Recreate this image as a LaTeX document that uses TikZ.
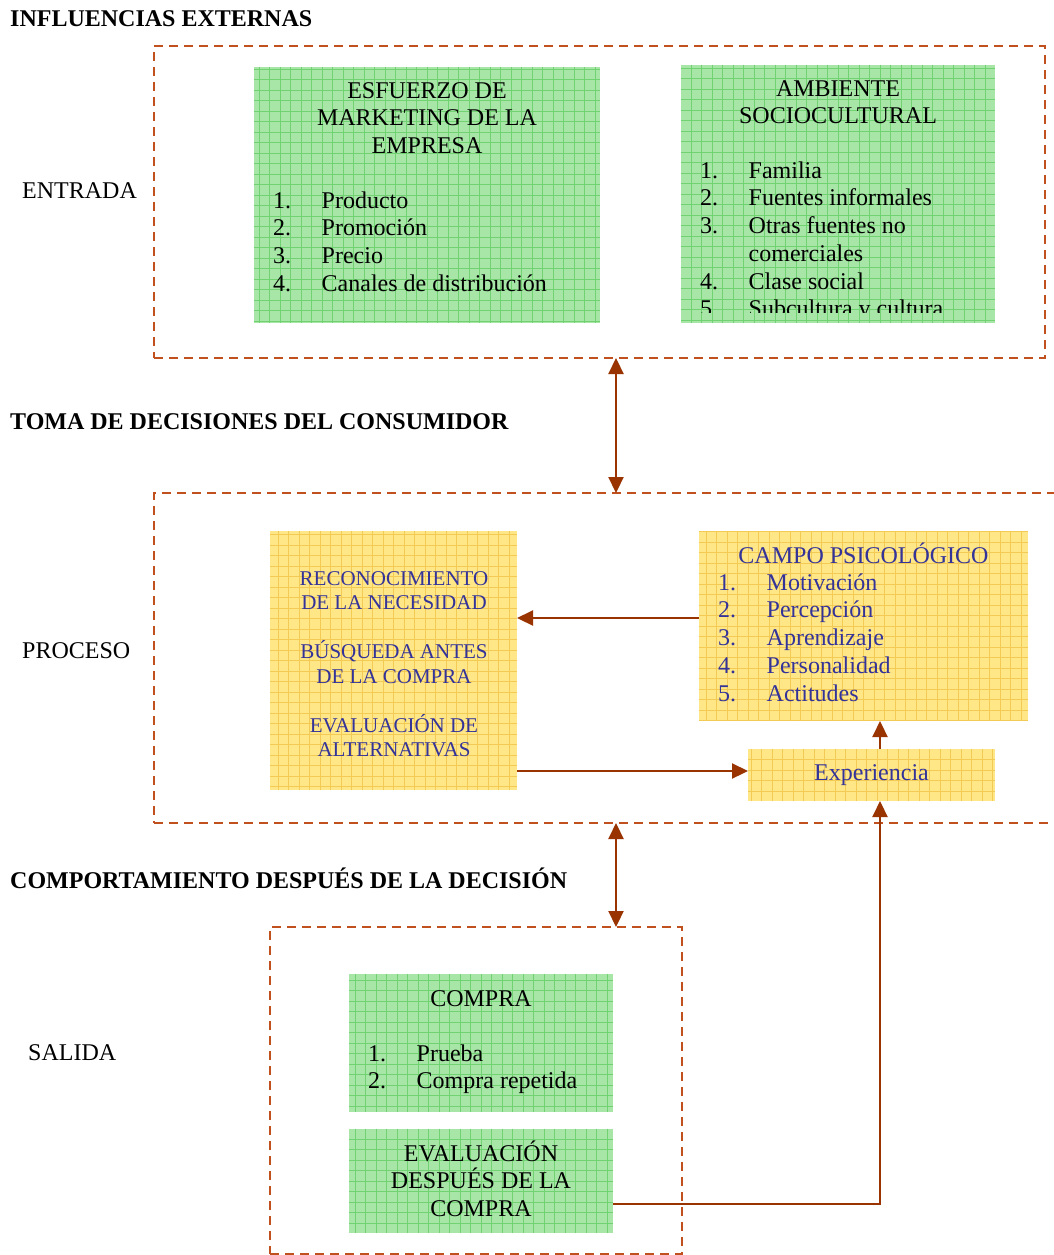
\documentclass[tikz,border=0pt]{standalone}
\usepackage{fontspec}
\setmainfont{Liberation Serif}
\usetikzlibrary{arrows.meta}

\definecolor{dashbrown}{RGB}{192,80,30}
\definecolor{arrbrown}{RGB}{153,51,0}
\definecolor{gfill}{RGB}{168,230,168}
\definecolor{ggrid}{RGB}{112,210,112}
\definecolor{yfill}{RGB}{255,230,135}
\definecolor{ygrid}{RGB}{242,202,84}
\definecolor{ytext}{RGB}{51,51,153}

% type sizes and helpers
\newcommand{\sizeA}{\fontsize{24}{27.7}\selectfont}
\newcommand{\sizeB}{\fontsize{21}{24.5}\selectfont}
\newcommand{\tsA}{\rule{0pt}{23pt}}
\newcommand{\tsB}{\rule{0pt}{20pt}}
\newcommand{\inum}[1]{\makebox[48.5pt][l]{#1}}

\tikzset{
  panel/.style={draw=dashbrown, line width=2.6pt, dash pattern=on 9pt off 6pt,
    inner sep=0pt, outer sep=0pt},
  gridbox/.style n args={2}{fill=#1, inner sep=0pt, outer sep=0pt,
    path picture={\draw[#2, line width=0.7pt, step=10.5pt]
      (path picture bounding box.south west) grid (path picture bounding box.north east);}},
  greenbox/.style={gridbox={gfill}{ggrid}},
  yellowbox/.style={gridbox={yfill}{ygrid}},
  tip/.tip={Triangle[length=16pt,width=15pt]},
  conn/.style={draw=arrbrown, line width=2.2pt, -tip},
  dconn/.style={draw=arrbrown, line width=2.2pt, tip-tip},
  heading/.style={font=\sizeA\bfseries, anchor=base west, inner sep=0pt},
  sidelabel/.style={font=\sizeA, anchor=base west, inner sep=0pt},
  titletext/.style={font=\sizeA, anchor=north, align=center, inner sep=0pt},
  listtext/.style={font=\sizeA, anchor=north west, align=left, inner sep=0pt},
}

\begin{document}
\begin{tikzpicture}[x=1pt, y=-1pt]
\useasboundingbox (0,0) rectangle (1053,1255);

% section headings
\node[heading] (hinf) at (10,27) {INFLUENCIAS EXTERNAS};
\node[heading] (htoma) at (10,429) {TOMA DE DECISIONES DEL CONSUMIDOR};
\node[heading] (hcomp) at (10,888) {COMPORTAMIENTO DESPUÉS DE LA DECISIÓN};

% side labels
\node[sidelabel] (lent) at (22,198) {ENTRADA};
\node[sidelabel] (lproc) at (22,658) {PROCESO};
\node[sidelabel] (lsal) at (28,1060) {SALIDA};

% dashed panels
\node[panel, minimum width=891pt, minimum height=312pt] (influ) at (599.5,202) {};
\node[panel, minimum width=946pt, minimum height=330pt] (proc) at (627,658) {};
\node[panel, minimum width=412pt, minimum height=327pt] (salida) at (476,1090.5) {};

% coloured boxes
\node[greenbox, minimum width=346pt, minimum height=256pt] (mkt) at (427,195) {};
\node[greenbox, minimum width=314pt, minimum height=258pt] (amb) at (838,194) {};
\node[yellowbox, minimum width=247pt, minimum height=259pt] (nec) at (393.5,660.5) {};
\node[yellowbox, minimum width=329pt, minimum height=190pt] (campo) at (863.5,626) {};
\node[yellowbox, minimum width=247pt, minimum height=52pt, font=\sizeA, text=ytext]
  (exp) at (871.5,775) {Experiencia};
\node[greenbox, minimum width=264pt, minimum height=138pt] (compra) at (481,1043) {};
\node[greenbox, minimum width=264pt, minimum height=104pt] (eval) at (481,1181) {};

% box texts
\node[titletext] (mkttitle) at (427,75) {\tsA ESFUERZO DE\\MARKETING DE LA\\EMPRESA};
\node[listtext] (mktlist) at (273,185)
  {\tsA\inum{1.}Producto\\\inum{2.}Promoción\\\inum{3.}Precio\\\inum{4.}Canales de distribución};

\node[titletext] (ambtitle) at (838,73) {\tsA AMBIENTE\\SOCIOCULTURAL};
\begin{scope}
  \clip (681,65) rectangle (995,312);
  \node[listtext] (amblist) at (700,155)
    {\tsA\inum{1.}Familia\\\inum{2.}Fuentes informales\\\inum{3.}Otras fuentes no\\
     \inum{}comerciales\\\inum{4.}Clase social\\\inum{5.}Subcultura y cultura};
\end{scope}

\node[font=\sizeB, text=ytext, anchor=north, align=center, inner sep=0pt] (nectext) at (394,565)
  {\tsB RECONOCIMIENTO\\DE LA NECESIDAD\\[24.5pt]BÚSQUEDA ANTES\\DE LA COMPRA\\[24.5pt]EVALUACIÓN DE\\ALTERNATIVAS};

\node[titletext, text=ytext] (campotitle) at (863.5,540) {\tsA CAMPO PSICOLÓGICO};
\node[listtext, text=ytext] (campolist) at (718,567)
  {\tsA\inum{1.}Motivación\\\inum{2.}Percepción\\\inum{3.}Aprendizaje\\\inum{4.}Personalidad\\\inum{5.}Actitudes};

\node[titletext] (compratitle) at (481,983) {\tsA COMPRA};
\node[listtext] (compralist) at (368,1038) {\tsA\inum{1.}Prueba\\\inum{2.}Compra repetida};

\node[titletext] (evaltext) at (481,1138) {\tsA EVALUACIÓN\\DESPUÉS DE LA\\COMPRA};

% connector guides
\coordinate (ax) at (616,0);
\coordinate (ax2) at (880,0);
\coordinate (ay1) at (0,618);
\coordinate (ay2) at (0,771);
\coordinate (ay3) at (0,1204);
\coordinate (bend) at (880,1204);

% connectors
\draw[dconn] (influ.south -| ax) -- (proc.north -| ax);
\draw[dconn] (proc.south -| ax) -- (salida.north -| ax);
\draw[conn] (campo.west |- ay1) -- (nec.east |- ay1);
\draw[conn] (nec.east |- ay2) -- (exp.west |- ay2);
\draw[conn] (exp.north -| ax2) -- (campo.south -| ax2);
\draw[conn] (eval.east |- ay3) -- (bend) -- (exp.south -| ax2);
\end{tikzpicture}
\end{document}
